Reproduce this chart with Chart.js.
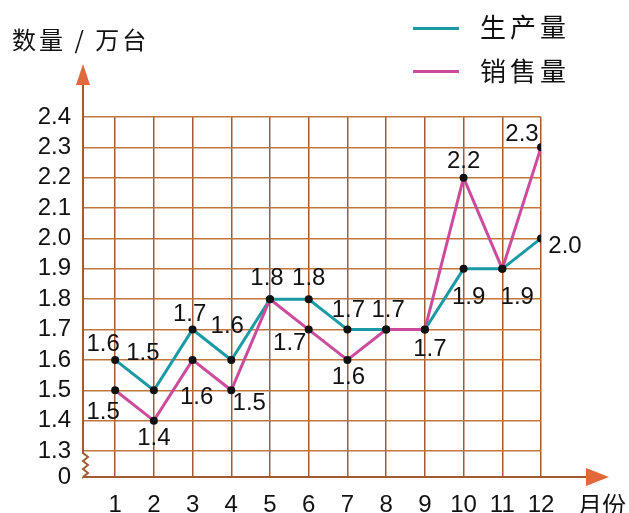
<!DOCTYPE html>
<html>
<head>
<meta charset="utf-8">
<script src="https://cdn.jsdelivr.net/npm/chart.js@4"></script>
<style>
  body { margin: 0; background: #fff; }
  #wrap { position: relative; width: 629px; height: 513px; }
  .txt { position: absolute; font-family: "Noto Sans CJK SC", sans-serif; color: #111; white-space: nowrap; line-height: 1; }
  .key { position: absolute; height: 3px; width: 46px; }
</style>
</head>
<body>
<div id="wrap">
  <canvas id="c" width="629" height="513"></canvas>
  <div class="txt" style="left:12px;top:27px;font-size:24px;letter-spacing:3px;">数量 / 万台</div>
  <div class="key" style="left:413px;top:27px;background:#1b9aa6;"></div>
  <div class="txt" style="left:480px;top:13px;font-size:26px;letter-spacing:4px;">生产量</div>
  <div class="key" style="left:413px;top:70px;background:#cc4b9c;"></div>
  <div class="txt" style="left:480px;top:57px;font-size:26px;letter-spacing:4px;">销售量</div>
  <div class="txt" style="left:578px;top:492px;font-size:24px;">月份</div>
</div>
<script>
const MONTHS = [1, 2, 3, 4, 5, 6, 7, 8, 9, 10, 11, 12];
const PRODUCTION = [1.6, 1.5, 1.7, 1.6, 1.8, 1.8, 1.7, 1.7, 1.7, 1.9, 1.9, 2.0];
const SALES = [1.5, 1.4, 1.6, 1.5, 1.8, 1.7, 1.6, 1.7, 1.7, 2.2, 1.9, 2.3];
const Y_TICKS = [1.3, 1.4, 1.5, 1.6, 1.7, 1.8, 1.9, 2.0, 2.1, 2.2, 2.3, 2.4];
const Y_FLOOR = 1.2145; // broken axis: this level is labelled 0

// where each value label sits relative to its point (px); null = no label
const PROD_LABEL_OFFSETS = [[-12, -16], [-11, -37], [-3, -15], [-4, -34], [-3, -21], [0, -21], [1, -19], [2, -19], [5, 20], [5, 29], [15, 29], [24, 8]];
const SALES_LABEL_OFFSETS = [[-12, 22], [0, 18], [4, 37], [18, 13], null, [-19, 14], [1, 17], null, null, [0, -16], null, [-19, -13]];

const TEAL = "#1b9aa6";
const MAGENTA = "#cc4b9c";
const GRID = "#a45a30";
const ARROW = "#e0683a";

const valueLabels = {
  id: "valueLabels",
  afterDatasetsDraw(chart) {
    const ctx = chart.ctx;
    ctx.save();
    ctx.font = "24px 'Liberation Sans', Arial, sans-serif";
    ctx.fillStyle = "#111";
    ctx.textAlign = "center";
    ctx.textBaseline = "middle";
    [PROD_LABEL_OFFSETS, SALES_LABEL_OFFSETS].forEach((offsets, di) => {
      const meta = chart.getDatasetMeta(di);
      const values = chart.data.datasets[di].data;
      meta.data.forEach((pt, i) => {
        const off = offsets[i];
        if (!off) return;
        ctx.fillText(values[i].y.toFixed(1), pt.x + off[0], pt.y + off[1]);
      });
    });
    ctx.restore();
  }
};

const axesArrows = {
  id: "axesArrows",
  afterDraw(chart) {
    const ctx = chart.ctx;
    const { left, bottom } = chart.chartArea;
    const y13 = chart.scales.y.getPixelForValue(Y_TICKS[0]);
    ctx.save();
    ctx.strokeStyle = GRID;
    ctx.lineWidth = 2;
    // y axis with break zigzag
    ctx.beginPath();
    ctx.moveTo(left, 82);
    ctx.lineTo(left, y13 + 2);
    const zz = [[5, 4], [0, 8], [5, 12], [0, 16], [5, 20], [0, 24]];
    zz.forEach(([dx, dy]) => ctx.lineTo(left + dx, y13 + 2 + dy));
    ctx.lineTo(left, bottom);
    ctx.stroke();
    // x axis
    ctx.beginPath();
    ctx.moveTo(left, bottom);
    ctx.lineTo(590, bottom);
    ctx.stroke();
    // arrow heads
    ctx.fillStyle = ARROW;
    ctx.beginPath();
    ctx.moveTo(left, 64);
    ctx.lineTo(left - 7, 85);
    ctx.lineTo(left + 7, 85);
    ctx.closePath();
    ctx.fill();
    ctx.beginPath();
    ctx.moveTo(609, bottom);
    ctx.lineTo(586, bottom - 9);
    ctx.lineTo(586, bottom + 9);
    ctx.closePath();
    ctx.fill();
    ctx.restore();
  }
};

new Chart(document.getElementById("c"), {
  type: "line",
  data: {
    datasets: [
      { label: "生产量", data: MONTHS.map((m, i) => ({ x: m, y: PRODUCTION[i] })), borderColor: TEAL, borderWidth: 3, order: 2 },
      { label: "销售量", data: MONTHS.map((m, i) => ({ x: m, y: SALES[i] })), borderColor: MAGENTA, borderWidth: 3, order: 1 },
    ].map(d => ({ ...d, tension: 0, pointRadius: 4, pointBackgroundColor: "#111", pointBorderWidth: 0, pointHoverRadius: 4 })),
  },
  options: {
    responsive: false,
    animation: false,
    events: [],
    layout: { padding: { top: 117, right: 88, left: 0, bottom: 0 } },
    plugins: { legend: { display: false }, tooltip: { enabled: false } },
    scales: {
      x: {
        type: "linear",
        min: 0.17,
        max: 12,
        afterBuildTicks: s => { s.ticks = MONTHS.map(v => ({ value: v })); },
        afterFit: s => { s.height = 36; },
        grid: { color: GRID, lineWidth: 1.5, drawTicks: false },
        border: { display: false },
        ticks: { autoSkip: false, maxRotation: 0, padding: 14, color: "#111", font: { size: 24, family: "'Liberation Sans', Arial, sans-serif" }, callback: v => String(v) },
      },
      y: {
        min: Y_FLOOR,
        max: 2.4,
        afterBuildTicks: s => { s.ticks = [Y_FLOOR, ...Y_TICKS].map(v => ({ value: v })); },
        afterFit: s => { s.width = 83; },
        grid: { color: "#c0773e", lineWidth: 1.5, drawTicks: false },
        border: { display: false },
        ticks: { autoSkip: false, padding: 12, color: "#111", font: { size: 24, family: "'Liberation Sans', Arial, sans-serif" }, callback: v => v === Y_FLOOR ? "0" : v.toFixed(1) },
      },
    },
  },
  plugins: [valueLabels, axesArrows],
});
</script>
</body>
</html>
